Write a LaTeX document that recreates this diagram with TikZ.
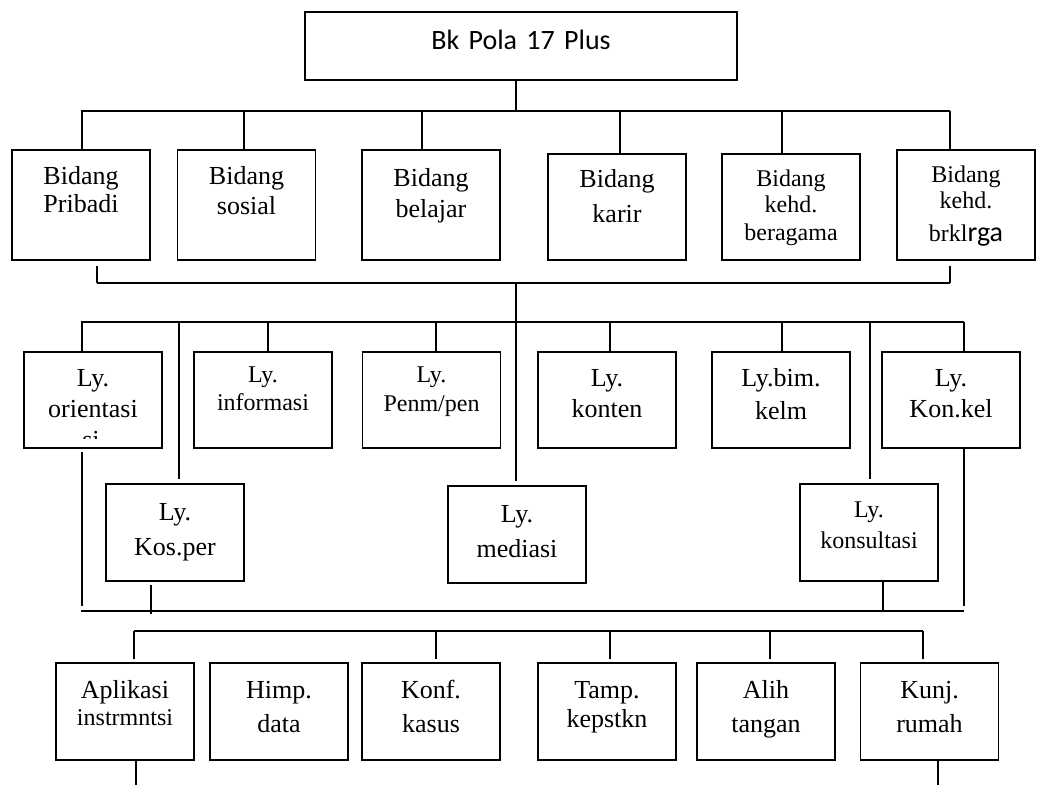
\documentclass[tikz,border=0pt]{standalone}
\usepackage{fontspec}
\setmainfont{Liberation Serif}
\newfontfamily\carlito{Carlito}
\usetikzlibrary{positioning}

\tikzset{
  bx/.style={draw, inner sep=0pt, text width=64pt, align=center, minimum width=69pt,
    anchor=base, font=\fontsize{13}{14}\selectfont},
  sm/.style={font=\fontsize{12}{13}\selectfont},
  bus/.style={line width=0.95pt}
}

\begin{document}
\begin{tikzpicture}[x=0.5pt, y=-0.5pt, line width=0.7pt]

\useasboundingbox (0,0) rectangle (1037,785);

\node[bx, minimum width=216pt, text width=200pt, font=\carlito\fontsize{14}{16}\selectfont,
  text height=19pt, text depth=15pt] (top) at (521,50) {Bk Pola 17 Plus};

% bidang
\node[bx, text height=17.5pt, text depth=37.5pt] (b1) at (81,185) {Bidang\\Pribadi};
\node[bx, text height=17.5pt, text depth=37.5pt] (b2) at (246.5,185) {Bidang\\[1pt]sosial};
\node[bx, text height=18.5pt, text depth=36.5pt] (b3) at (431,187) {Bidang\\[1.5pt]belajar};
\node[bx, text height=17pt, text depth=36pt] (b4) at (617,188) {Bidang\\[3.5pt]karir};
\node[bx, sm, text height=16.5pt, text depth=36.5pt] (b5) at (791,187) {Bidang\\kehd.\\[1pt]beragama};
\node[bx, sm, text height=16.5pt, text depth=38.5pt] (b6) at (966,183)
  {Bidang\\kehd.\\[3.5pt]brkl{\carlito\fontsize{14}{16}\selectfont rga}};

% layanan
\node[bx, text height=17.5pt, text depth=30.5pt] (o) at (93,387) {Ly.\\[1pt]orientasi};
\node[bx, sm, text height=15.5pt, text depth=32.5pt] (i) at (263,383) {Ly.\\[0.5pt]informasi};
\node[bx, sm, text height=15.5pt, text depth=32.5pt] (p) at (431.5,383) {Ly.\\[1.5pt]Penm/pen};
\node[bx, text height=17.5pt, text depth=30.5pt] (k) at (607,387) {Ly.\\[1pt]konten};
\node[bx, text height=17.5pt, text depth=30.5pt] (bk) at (781,387) {Ly.bim.\\[2.5pt]kelm};
\node[bx, text height=17.5pt, text depth=30.5pt] (kk) at (951,387) {Ly.\\[1pt]Kon.kel};

\begin{scope}
\clip (24,352) rectangle (162,438);
\node[font=\fontsize{13}{14}\selectfont, anchor=base, inner sep=0pt] (osi) at (91,448) {si};
\end{scope}

\node[bx, text height=18pt, text depth=30.5pt] (kp) at (175,520) {Ly.\\[3.5pt]Kos.per};
\node[bx, text height=18pt, text depth=30.5pt] (md) at (517,522) {Ly.\\[3.5pt]mediasi};
\node[bx, sm, text height=16.5pt, text depth=32pt] (ks) at (869,517) {Ly.\\[2.5pt]konsultasi};

% kegiatan pendukung
\node[bx, text height=17.5pt, text depth=31pt] (a) at (125,698) {Aplikasi\\[-0.5pt]{\fontsize{12}{13}\selectfont instrmntsi}};
\node[bx, text height=17.5pt, text depth=31pt] (h) at (279,698) {Himp.\\[3pt]data};
\node[bx, text height=17.5pt, text depth=31pt] (kf) at (431,698) {Konf.\\[3pt]kasus};
\node[bx, text height=17.5pt, text depth=31pt] (tp) at (607,698) {Tamp.\\[0.5pt]kepstkn};
\node[bx, text height=17.5pt, text depth=31pt] (al) at (766,698) {Alih\\[3pt]tangan};
\node[bx, text height=17.5pt, text depth=31pt] (kj) at (929.5,698) {Kunj.\\[3pt]rumah};

% bus 1
\coordinate (j1) at (516,111);
\coordinate (j1w) at (81,111);
\coordinate (j1e) at (950,111);
\draw (top.south -| j1) -- (j1);
\draw[bus] (j1w) -- (j1e);
\foreach \n/\x in {b1/82, b2/244, b3/422, b4/620, b5/782, b6/950} {
  \coordinate (d\n) at (\x,111);
  \draw (d\n) -- (d\n |- \n.north);
}

% bracket under bidang
\coordinate (k1) at (97,283);
\coordinate (k2) at (950,283);
\coordinate (j2) at (516,283);
\coordinate (j3) at (516,322);
\draw[bus] (k1) -- (k2);
\draw[shorten <=2.5pt] (b1.south -| k1) -- (k1);
\draw[shorten <=2.5pt] (b6.south -| k2) -- (k2);
\draw (j2) -- (j3);

% bus 2
\coordinate (j3w) at (81,322);
\coordinate (j3e) at (964,322);
\draw[bus] (j3w) -- (j3e);
\foreach \n/\x in {o/82, i/268, p/436, k/610, bk/782, kk/964} {
  \coordinate (d\n) at (\x,322);
  \draw (d\n) -- (d\n |- \n.north);
}
\foreach \n/\x in {kp/179, md/516, ks/870} {
  \coordinate (d\n) at (\x,322);
  \draw[shorten >=2pt] (d\n) -- (d\n |- \n.north);
}

% bus 3
\coordinate (j4w) at (81,611);
\coordinate (j4e) at (964,611);
\coordinate (e1) at (82,611);
\coordinate (e2) at (964,611);
\coordinate (e3) at (151,614);
\coordinate (e4) at (883,611);
\draw[bus] (j4w) -- (j4e);
\draw[shorten <=1.5pt, shorten >=2.5pt] (o.south -| e1) -- (e1);
\draw[shorten >=2.5pt] (kk.south -| e2) -- (e2);
\draw[shorten <=1.5pt] (kp.south -| e3) -- (e3);
\draw (ks.south -| e4) -- (e4);

% bus 4
\coordinate (j5w) at (134,631);
\coordinate (j5e) at (923,631);
\draw (j5w) -- (j5e);
\foreach \n/\x in {a/134, kf/436, tp/610, al/770, kj/923} {
  \coordinate (d\n) at (\x,631);
  \draw[shorten >=1.5pt] (d\n) -- (d\n |- \n.north);
}

\coordinate (f1) at (136,785);
\coordinate (f2) at (938,785);
\draw (a.south -| f1) -- (f1);
\draw (kj.south -| f2) -- (f2);

\end{tikzpicture}
\end{document}
